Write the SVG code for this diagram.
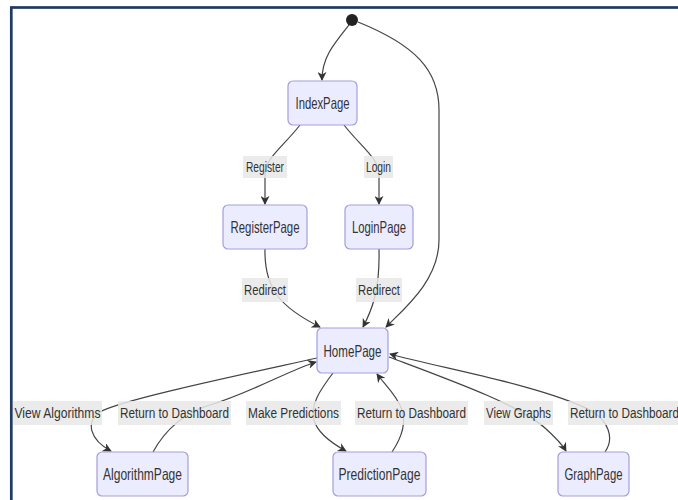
<svg xmlns="http://www.w3.org/2000/svg" width="678" height="500" viewBox="0 0 678 500">
<defs>
<style>
.node rect{fill:#ECECFF;stroke:#a59ddb;stroke-width:1.2}
.node text{font-family:"Liberation Sans","DejaVu Sans",sans-serif;font-size:16.5px;fill:#333;text-anchor:middle;dominant-baseline:central}
.edges path{fill:none;stroke:#444;stroke-width:1.2}
.lbl rect{fill:#e8e8e8;opacity:0.85}
.lbl text{font-family:"Liberation Sans","DejaVu Sans",sans-serif;font-size:14px;fill:#333;text-anchor:middle;dominant-baseline:central}
</style>
<marker id="arr" viewBox="0 0 10 10" refX="9" refY="5" markerWidth="9" markerHeight="9" markerUnits="userSpaceOnUse" orient="auto">
<path d="M0,0 L10,5 L0,10 L3,5 z" fill="#333"/>
</marker>
</defs>
<rect x="0" y="0" width="678" height="500" fill="#ffffff"/>
<rect x="11.3" y="7.5" width="700" height="520" fill="none" stroke="#1f3a63" stroke-width="2.7"/>

<g class="edges">
<path d="M349,25 C333,45 322,58 322,80" marker-end="url(#arr)"/>
<path d="M358,22 C415,45 439,70 439,110 L439,240 C439,280 405,308 386,327" marker-end="url(#arr)"/>
<path d="M300,125 C282,148 265,158 265,175 L265,204" marker-end="url(#arr)"/>
<path d="M344,125 C362,148 379,158 379,175 L379,204" marker-end="url(#arr)"/>
<path d="M265,249 C264,290 282,308 320,327" marker-end="url(#arr)"/>
<path d="M379,249 C380,290 372,310 363,327" marker-end="url(#arr)"/>
<path d="M317,358 C240,375 120,400 100,412 C85,422 90,440 111,451" marker-end="url(#arr)"/>
<path d="M153,452 C165,430 185,412 210,405 C250,393 290,370 316,362" marker-end="url(#arr)"/>
<path d="M333,373 C320,390 310,405 314,420 C318,435 335,445 346,451" marker-end="url(#arr)"/>
<path d="M392,452 C400,440 407,425 402,410 C397,395 385,385 377,374" marker-end="url(#arr)"/>
<path d="M389,357 C450,380 520,405 545,428 C555,437 562,444 566,451" marker-end="url(#arr)"/>
<path d="M605,452 C615,438 608,420 590,410 C540,385 440,368 390,354" marker-end="url(#arr)"/>
</g>

<g class="lbl">
<rect x="243" y="156" width="44" height="22"/><text x="265" y="167" textLength="38" lengthAdjust="spacingAndGlyphs">Register</text>
<rect x="364" y="156" width="29" height="22"/><text x="378.5" y="167" textLength="25" lengthAdjust="spacingAndGlyphs">Login</text>
<rect x="242" y="278" width="46" height="24"/><text x="265" y="290" textLength="42" lengthAdjust="spacingAndGlyphs">Redirect</text>
<rect x="356" y="278" width="46" height="24"/><text x="379" y="290" textLength="42" lengthAdjust="spacingAndGlyphs">Redirect</text>
<rect x="13" y="401" width="89" height="24"/><text x="57.5" y="413" textLength="86" lengthAdjust="spacingAndGlyphs">View Algorithms</text>
<rect x="118" y="401" width="113" height="24"/><text x="174.5" y="413" textLength="109" lengthAdjust="spacingAndGlyphs">Return to Dashboard</text>
<rect x="246" y="401" width="95" height="24"/><text x="293.5" y="413" textLength="91" lengthAdjust="spacingAndGlyphs">Make Predictions</text>
<rect x="355" y="401" width="113" height="24"/><text x="411.5" y="413" textLength="109" lengthAdjust="spacingAndGlyphs">Return to Dashboard</text>
<rect x="484" y="401" width="69" height="24"/><text x="518.5" y="413" textLength="65" lengthAdjust="spacingAndGlyphs">View Graphs</text>
<rect x="568" y="401" width="113" height="24"/><text x="624.5" y="413" textLength="109" lengthAdjust="spacingAndGlyphs">Return to Dashboard</text>
</g>

<g id="start"><circle cx="352" cy="20" r="6" fill="#222"/></g>
<g id="IndexPage" class="node"><rect x="288" y="81" width="69" height="44" rx="5"/><text x="322.5" y="103" textLength="54" lengthAdjust="spacingAndGlyphs">IndexPage</text></g>
<g id="RegisterPage" class="node"><rect x="223" y="205" width="84" height="44" rx="5"/><text x="265" y="227" textLength="69" lengthAdjust="spacingAndGlyphs">RegisterPage</text></g>
<g id="LoginPage" class="node"><rect x="345" y="205" width="68" height="44" rx="5"/><text x="379" y="227" textLength="54" lengthAdjust="spacingAndGlyphs">LoginPage</text></g>
<g id="HomePage" class="node"><rect x="317" y="328" width="71" height="45" rx="5"/><text x="352.5" y="350.5" textLength="58" lengthAdjust="spacingAndGlyphs">HomePage</text></g>
<g id="AlgorithmPage" class="node"><rect x="97" y="452" width="91" height="44" rx="5"/><text x="142.5" y="474" textLength="79" lengthAdjust="spacingAndGlyphs">AlgorithmPage</text></g>
<g id="PredictionPage" class="node"><rect x="333" y="452" width="93" height="44" rx="5"/><text x="379.5" y="474" textLength="82" lengthAdjust="spacingAndGlyphs">PredictionPage</text></g>
<g id="GraphPage" class="node"><rect x="558" y="452" width="71" height="44" rx="5"/><text x="593.5" y="474" textLength="58" lengthAdjust="spacingAndGlyphs">GraphPage</text></g>
</svg>
